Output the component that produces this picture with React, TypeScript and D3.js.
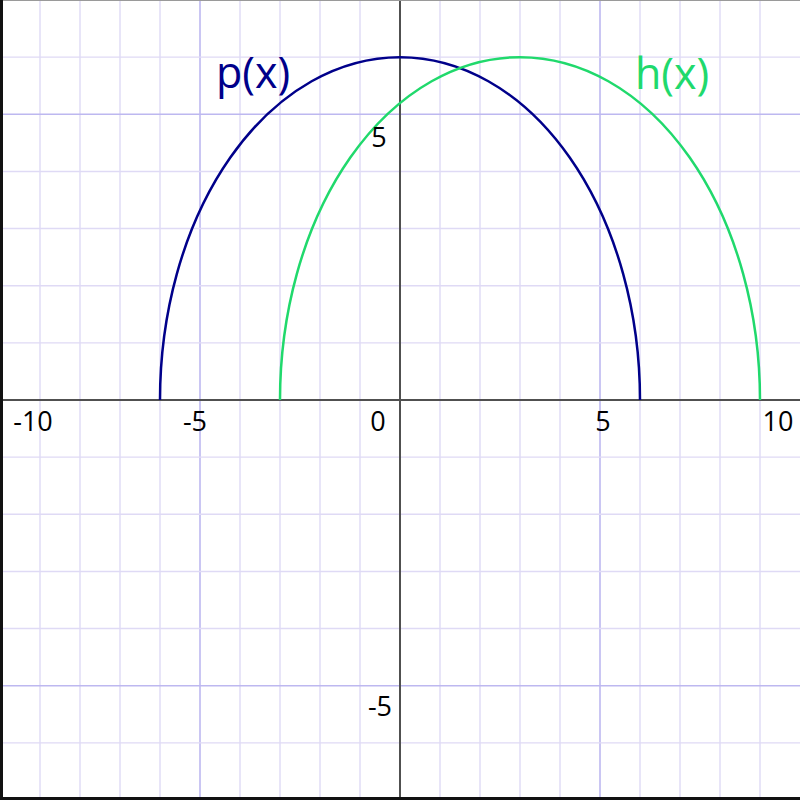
import React from "react";
import * as d3 from "d3";

// ---- data ----
const xTickValues = [-10, -5, 0, 5, 10];
const xTickLabels = ["-10", "-5", "0", "5", "10"];
const yTickValues = [5, -5];
const yTickLabels = ["5", "-5"];
const curveNames = ["p(x)", "h(x)"];
const curveCenters = [0, 3]; // centre of each semicircle on the x axis
const curveRadii = [6, 6];
const gridXValues = d3.range(-9, 10);
const gridYValues = d3.range(-6, 7);

// ---- styles ----
const W = 800;
const H = 800;
const curveColors = ["#00008a", "#20d96c"];
const labelX = [253, 672];
const labelBaseline = [88, 89];
const xTickDx = [33, -5, -22, 3, -22];
const yTickDx = [-21, -20];
const FONT = "'Open Sans', 'Noto Sans', sans-serif";

export default function App() {
  const x = d3.scaleLinear().domain([-10, 10]).range([0, W]);
  const y = d3.scaleLinear().domain([-7, 7]).range([H, 0]);

  const arcPath = (c: number, r: number) => {
    const rx = x(c + r) - x(c);
    const ry = y(0) - y(r);
    return `M${x(c - r)},${y(0)} A${rx},${ry} 0 0 1 ${x(c + r)},${y(0)}`;
  };

  return (
    <svg
      width={W}
      height={H}
      style={{ position: "fixed", left: 0, top: 0, background: "#fff" }}
    >
      <rect x={0} y={0} width={W} height={H} fill="#fff" />
      {gridXValues.map((v) => (
        <line
          key={"gx" + v}
          x1={x(v)}
          x2={x(v)}
          y1={0}
          y2={H}
          stroke={Math.abs(v) === 5 ? "#bdb8f0" : "#dfdaf5"}
          strokeWidth={Math.abs(v) === 5 ? 1.6 : 1.4}
        />
      ))}
      {gridYValues.map((v) => (
        <line
          key={"gy" + v}
          x1={0}
          x2={W}
          y1={y(v)}
          y2={y(v)}
          stroke={Math.abs(v) === 5 ? "#bdb8f0" : "#dfdaf5"}
          strokeWidth={Math.abs(v) === 5 ? 1.6 : 1.4}
        />
      ))}
      {/* axes */}
      <line x1={0} x2={W} y1={y(0)} y2={y(0)} stroke="#505050" strokeWidth={2} />
      <line x1={x(0)} x2={x(0)} y1={0} y2={H} stroke="#505050" strokeWidth={2} />
      {/* border */}
      <line x1={0} x2={W} y1={0.5} y2={0.5} stroke="#9a9a9a" strokeWidth={1} />
      <line x1={1.5} x2={1.5} y1={0} y2={H} stroke="#111" strokeWidth={3} />
      <line x1={0} x2={W} y1={H - 1.5} y2={H - 1.5} stroke="#111" strokeWidth={3} />
      {/* curves */}
      {curveNames.map((n, i) => (
        <path
          key={n}
          d={arcPath(curveCenters[i], curveRadii[i])}
          fill="none"
          stroke={curveColors[i]}
          strokeWidth={2.5}
        />
      ))}
      {curveNames.map((n, i) => (
        <text
          key={"l" + n}
          x={labelX[i]}
          y={labelBaseline[i]}
          fill={curveColors[i]}
          fontFamily={FONT}
          fontSize={43}
          textAnchor="middle"
        >
          {n}
        </text>
      ))}
      {/* tick labels */}
      {xTickValues.map((v, i) => (
        <text
          key={"xt" + v}
          x={x(v) + xTickDx[i]}
          y={y(0) + 31}
          fontFamily={FONT}
          fontSize={27}
          textAnchor="middle"
          fill="#000"
        >
          {xTickLabels[i]}
        </text>
      ))}
      {yTickValues.map((v, i) => (
        <text
          key={"yt" + v}
          x={x(0) + yTickDx[i]}
          y={y(v) + (v > 0 ? 33 : 30)}
          fontFamily={FONT}
          fontSize={27}
          textAnchor="middle"
          fill="#000"
        >
          {yTickLabels[i]}
        </text>
      ))}
    </svg>
  );
}
